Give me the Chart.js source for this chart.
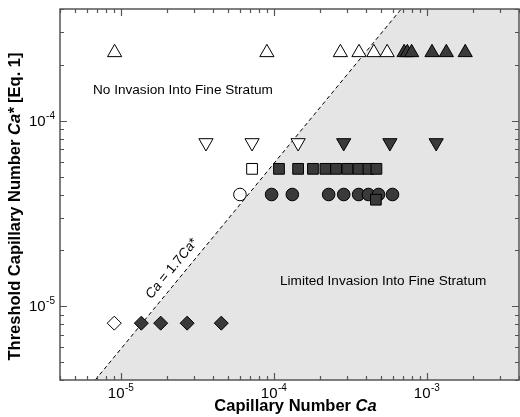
<!DOCTYPE html>
<html>
<head>
<meta charset="utf-8">
<script src="https://cdn.jsdelivr.net/npm/chart.js@4.4.0/dist/chart.umd.min.js"></script>
<style>
    body { margin: 0; background: #fff; }
</style>
</head>
<body>
<canvas id="caCanvas" width="520" height="417"></canvas>
<script>
// axis ranges (log scales) and the labelled decades
const xLimits = [4e-6, 4e-3];
const yLimits = [4e-6, 4e-4];
const xDecades = [-5, -4, -3];
const yDecades = [-5, -4];
const lineRatio = 1.7; // Ca = 1.7 Ca*

// upward triangles
const triUpOpenCa = [9.1e-6, 9.0e-5, 2.72e-4, 3.6e-4, 4.5e-4, 5.5e-4];
const triUpOpenCaStar = [2.33e-4, 2.33e-4, 2.33e-4, 2.33e-4, 2.33e-4, 2.33e-4];
const triUpFillCa = [7.1e-4, 7.45e-4, 7.95e-4, 1.08e-3, 1.34e-3, 1.78e-3];
const triUpFillCaStar = [2.33e-4, 2.33e-4, 2.33e-4, 2.33e-4, 2.33e-4, 2.33e-4];

// downward triangles
const triDownOpenCa = [3.6e-5, 7.2e-5, 1.44e-4];
const triDownOpenCaStar = [7.6e-5, 7.6e-5, 7.6e-5];
const triDownFillCa = [2.86e-4, 5.73e-4, 1.15e-3];
const triDownFillCaStar = [7.6e-5, 7.6e-5, 7.6e-5];

// squares
const sqOpenCa = [7.2e-5];
const sqOpenCaStar = [5.5e-5];
const sqFillCa = [1.08e-4, 1.44e-4, 1.80e-4, 2.17e-4, 2.55e-4, 3.03e-4, 3.58e-4, 4.15e-4, 4.68e-4, 4.64e-4];
const sqFillCaStar = [5.5e-5, 5.5e-5, 5.5e-5, 5.5e-5, 5.5e-5, 5.5e-5, 5.5e-5, 5.5e-5, 5.5e-5, 3.75e-5];

// circles
const circOpenCa = [6.0e-5];
const circOpenCaStar = [4.0e-5];
const circFillCa = [9.66e-5, 1.32e-4, 2.28e-4, 2.86e-4, 3.58e-4, 4.15e-4, 4.83e-4, 5.96e-4];
const circFillCaStar = [4.0e-5, 4.0e-5, 4.0e-5, 4.0e-5, 4.0e-5, 4.0e-5, 4.0e-5, 4.0e-5];

// diamonds
const diaOpenCa = [9.05e-6];
const diaOpenCaStar = [8.1e-6];
const diaFillCa = [1.36e-5, 1.82e-5, 2.71e-5, 4.53e-5];
const diaFillCaStar = [8.1e-6, 8.1e-6, 8.1e-6, 8.1e-6];

const FONT = '"Liberation Sans", Arial, Helvetica, sans-serif';
const DARK = '#3a3a3a';

function toPoints(xs, ys) {
    return xs.map((v, i) => ({ x: v, y: ys[i] }));
}

function markers(xs, ys, style, radius, filled, rotation) {
    return {
        data: toPoints(xs, ys),
        pointStyle: style,
        pointRadius: radius,
        pointRotation: rotation || 0,
        pointBackgroundColor: filled ? DARK : '#ffffff',
        pointBorderColor: '#000000',
        pointBorderWidth: 1,
        showLine: false,
        order: 1
    };
}

// the Ca = 1.7 Ca* line, clipped to the axis box
const lineStart = { x: yLimits[0] * lineRatio, y: yLimits[0] };
const lineEnd = { x: yLimits[1] * lineRatio, y: yLimits[1] };

// draws frame, inward ticks, tick labels, axis titles and the text notes
const decorations = {
    id: 'decorations',
    afterDatasetsDraw(chart) {
        const ctx = chart.ctx;
        const a = chart.chartArea;
        const x = chart.scales.x;
        const y = chart.scales.y;
        ctx.save();

        // region notes
        ctx.fillStyle = '#000';
        ctx.font = '13.6px ' + FONT;
        ctx.textBaseline = 'middle';
        ctx.textAlign = 'left';
        ctx.fillText('No Invasion Into Fine Stratum', 93, 90);
        ctx.fillText('Limited Invasion Into Fine Stratum', 280, 281);

        // line label, rotated along the dashed line
        const p0 = { x: x.getPixelForValue(lineStart.x), y: y.getPixelForValue(lineStart.y) };
        const p1 = { x: x.getPixelForValue(lineEnd.x), y: y.getPixelForValue(lineEnd.y) };
        const ang = Math.atan2(p1.y - p0.y, p1.x - p0.x);
        const t = 0.28;
        const cx = p0.x + (p1.x - p0.x) * t;
        const cy = p0.y + (p1.y - p0.y) * t;
        ctx.translate(cx, cy);
        ctx.rotate(ang);
        const parts = [['Ca', 'italic '], [' = 1.7', ''], ['Ca', 'italic '], ['*', '']];
        let total = 0;
        parts.forEach(p => { ctx.font = p[1] + '13.5px ' + FONT; total += ctx.measureText(p[0]).width; });
        let px = -total / 2;
        ctx.textBaseline = 'alphabetic';
        parts.forEach(p => {
            ctx.font = p[1] + '13.5px ' + FONT;
            ctx.fillText(p[0], px, -8);
            px += ctx.measureText(p[0]).width;
        });
        ctx.setTransform(1, 0, 0, 1, 0, 0);

        // frame
        ctx.strokeStyle = '#555';
        ctx.lineWidth = 1.5;
        ctx.strokeRect(a.left, a.top, a.right - a.left, a.bottom - a.top);

        // inward ticks on all four sides
        ctx.lineWidth = 1.2;
        for (let k = -6; k <= -2; k++) {
            for (let m = 1; m <= 9; m++) {
                const v = m * Math.pow(10, k);
                const len = m === 1 ? 7 : 4;
                if (v >= xLimits[0] && v <= xLimits[1]) {
                    const px2 = Math.round(x.getPixelForValue(v)) + 0.5;
                    ctx.beginPath();
                    ctx.moveTo(px2, a.bottom); ctx.lineTo(px2, a.bottom - len);
                    ctx.moveTo(px2, a.top); ctx.lineTo(px2, a.top + len);
                    ctx.stroke();
                }
                if (v >= yLimits[0] && v <= yLimits[1]) {
                    const py = Math.round(y.getPixelForValue(v)) + 0.5;
                    ctx.beginPath();
                    ctx.moveTo(a.left, py); ctx.lineTo(a.left + len, py);
                    ctx.moveTo(a.right, py); ctx.lineTo(a.right - len, py);
                    ctx.stroke();
                }
            }
        }

        // tick labels 10^n
        ctx.fillStyle = '#000';
        ctx.textBaseline = 'alphabetic';
        const power = (n, left, base) => {
            ctx.font = '15px ' + FONT;
            ctx.textAlign = 'left';
            ctx.fillText('10', left, base);
            const w = ctx.measureText('10').width;
            ctx.font = '10px ' + FONT;
            ctx.fillText(String(n), left + w + 0.5, base - 7);
        };
        const powerWidth = n => {
            ctx.font = '15px ' + FONT;
            const w = ctx.measureText('10').width;
            ctx.font = '10px ' + FONT;
            return w + 0.5 + ctx.measureText(String(n)).width;
        };
        xDecades.forEach(n => {
            const px3 = x.getPixelForValue(Math.pow(10, n));
            power(n, px3 - powerWidth(n) / 2, a.bottom + 18);
        });
        yDecades.forEach(n => {
            const py = y.getPixelForValue(Math.pow(10, n));
            power(n, a.left - 5 - powerWidth(n), py + 5);
        });

        // axis titles with italic symbols
        const mixed = (segs, size) => {
            let w = 0;
            segs.forEach(s => { ctx.font = s[1] + 'bold ' + size + 'px ' + FONT; w += ctx.measureText(s[0]).width; });
            let pos = -w / 2;
            segs.forEach(s => {
                ctx.font = s[1] + 'bold ' + size + 'px ' + FONT;
                ctx.fillText(s[0], pos, 0);
                pos += ctx.measureText(s[0]).width;
            });
        };
        ctx.textBaseline = 'middle';
        ctx.textAlign = 'left';
        ctx.translate((a.left + a.right) / 2 + 6, 406);
        mixed([['Capillary Number ', ''], ['Ca', 'italic ']], 16.5);
        ctx.setTransform(1, 0, 0, 1, 0, 0);
        ctx.translate(15, (a.top + a.bottom) / 2 + 12);
        ctx.rotate(-Math.PI / 2);
        mixed([['Threshold Capillary Number ', ''], ['Ca*', 'italic '], [' [Eq. 1]', '']], 16.5);
        ctx.restore();
    }
};

document.addEventListener('DOMContentLoaded', function() {
    const ctx = document.getElementById('caCanvas').getContext('2d');
    new Chart(ctx, {
        type: 'scatter',
        data: {
            datasets: [
                markers(triUpOpenCa, triUpOpenCaStar, 'triangle', 8.2, false),
                markers(triUpFillCa, triUpFillCaStar, 'triangle', 8.2, true),
                markers(triDownOpenCa, triDownOpenCaStar, 'triangle', 8.2, false, 180),
                markers(triDownFillCa, triDownFillCaStar, 'triangle', 8.2, true, 180),
                markers(sqFillCa, sqFillCaStar, 'rect', 7.6, true),
                markers(sqOpenCa, sqOpenCaStar, 'rect', 7.6, false),
                markers(circOpenCa, circOpenCaStar, 'circle', 6.3, false),
                markers(circFillCa, circFillCaStar, 'circle', 6.3, true),
                markers(diaOpenCa, diaOpenCaStar, 'rectRot', 7, false),
                markers(diaFillCa, diaFillCaStar, 'rectRot', 7, true),
                {
                    // dashed boundary line
                    data: [lineStart, lineEnd],
                    showLine: true,
                    borderColor: '#000',
                    borderWidth: 1,
                    borderDash: [4, 3],
                    pointRadius: 0,
                    fill: false,
                    order: 5
                },
                {
                    // grey "limited invasion" region to the right of the line
                    data: [lineStart, lineEnd, { x: xLimits[1], y: yLimits[1] }],
                    showLine: true,
                    borderWidth: 0,
                    borderColor: 'rgba(0,0,0,0)',
                    backgroundColor: '#e5e5e5',
                    pointRadius: 0,
                    fill: 'start',
                    order: 10
                }
            ]
        },
        plugins: [decorations],
        options: {
            responsive: false,
            animation: false,
            layout: {
                autoPadding: false,
                padding: { left: 60, right: 1, top: 9, bottom: 37 }
            },
            scales: {
                x: { type: 'logarithmic', min: xLimits[0], max: xLimits[1], display: false },
                y: { type: 'logarithmic', min: yLimits[0], max: yLimits[1], display: false }
            },
            plugins: {
                legend: { display: false },
                tooltip: { enabled: false }
            }
        }
    });
});
</script>
</body>
</html>
